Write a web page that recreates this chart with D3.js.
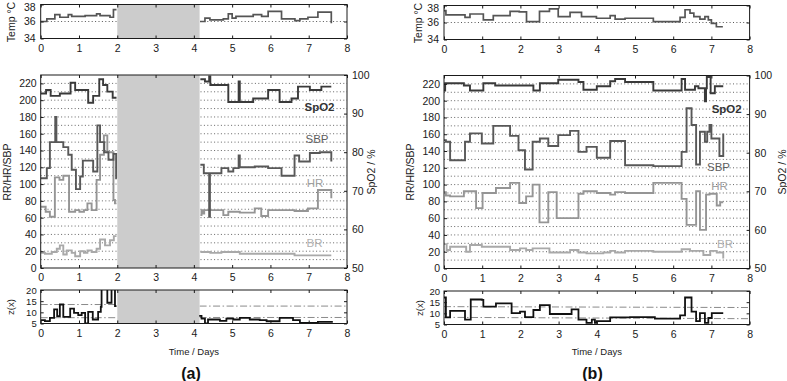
<!DOCTYPE html>
<html><head><meta charset="utf-8">
<script src="https://cdn.jsdelivr.net/npm/d3@7"></script>
<style>body{margin:0;background:#fff}</style>
</head><body>
<svg id="c" width="787" height="381"></svg>
<script>
// ---------- tick values ----------
const xTicks = [0,1,2,3,4,5,6,7,8];
const tempTicks = [34,36,38];
const leftTicks = [0,20,40,60,80,100,120,140,160,180,200,220];
const rightTicks = [50,60,70,80,90,100];
const zTicks = [5,10,15,20];
const gridLevels = [10,20,30,40,50,60,70,80,90,100,110,120,130,140,150,160,170,180,190,200,210,220];
const tempGrid = [36];

// ---------- panel (a) data : [time in days, value], null = gap ----------
const aGap = [2.0, 4.15];
const aTemp = [[0,36.0],[0.16,36.3],[0.37,36.8],[0.50,36.5],[0.72,36.8],[0.81,36.6],[1.16,36.7],[1.46,36.9],[1.55,36.7],[1.81,36.5],[1.90,37.4],[1.98,37.4],[2,null],
  [4.16,36.0],[4.29,36.4],[4.42,36.2],[4.77,36.3],[4.90,36.9],[5.0,36.4],[5.1,36.6],[5.55,36.8],[5.77,36.6],[5.94,37.2],[6.29,36.3],[6.64,36.1],[6.77,36.3],[6.98,36.5],[7.24,37.1],[7.59,35.8]];
const aSpO2 = [[0,95.2],[0.14,96.1],[0.26,94.6],[0.50,95.2],[0.78,98.0],[0.90,96.1],[1.24,92.8],[1.37,94.6],[1.53,98.9],[1.63,97.4],[1.74,95.7],[1.88,94.1],[1.98,94.1],[2,null],
  [4.17,98.9],[4.29,98.3],[4.40,99.6],[4.43,97.4],[4.90,93.0],[5.17,98.3],[5.20,93.0],[5.55,93.9],[5.94,96.1],[6.24,93.0],[6.55,93.9],[6.72,97.0],[7.03,96.1],[7.33,97.0],[7.59,97.0]];
const aSBP = [[0,107],[0.16,119],[0.24,150],[0.38,180],[0.41,150],[0.59,144],[0.72,135],[0.81,117],[0.92,94],[1.03,109],[1.10,128],[1.37,115],[1.48,170],[1.55,150],[1.66,138],[1.77,129],[1.90,136],[1.97,107],[1.99,107],[2,null],
  [4.17,123],[4.26,113],[4.40,61],[4.42,113],[4.72,119],[4.90,115],[5.03,119],[5.17,134],[5.20,120],[5.59,121],[5.94,119],[6.29,110],[6.63,134],[6.75,127],[7.03,137],[7.29,138],[7.59,127]];
const aHR = [[0,73],[0.13,67],[0.24,61],[0.37,108],[0.49,105],[0.59,110],[0.74,67],[0.90,69],[1.01,67],[1.13,69],[1.22,77],[1.33,69],[1.46,105],[1.55,135],[1.65,158],[1.74,138],[1.90,81],[1.94,77],[1.98,77],[2,null],
  [4.17,63],[4.20,69],[4.23,65],[4.27,69],[4.77,63],[4.90,67],[5.20,66],[5.59,71],[5.76,62],[5.94,69],[6.63,68],[6.98,71],[7.24,93],[7.59,83]];
const aBR = [[0,18],[0.11,17],[0.29,19],[0.42,23],[0.50,27],[0.59,16],[0.68,21],[0.81,18],[0.90,14],[1.03,20],[1.13,18],[1.22,21],[1.33,19],[1.46,23],[1.55,34],[1.68,27],[1.81,33],[1.91,38],[1.98,38],[2,null],
  [4.17,19],[4.43,18],[4.72,19],[5.20,17],[6.63,15],[7.59,15]];
const aZ = [[0,6.5],[0.11,6.05],[0.24,7.55],[0.35,11.3],[0.43,8.3],[0.50,13.5],[0.59,8.0],[0.77,11.7],[0.87,9.8],[0.98,8.75],[1.07,9.8],[1.16,5.0],[1.24,10.25],[1.36,6.8],[1.50,10.25],[1.57,12.5],[1.59,20.5],[1.74,14.3],[1.85,20.5],[1.94,12.8],[1.98,12.8],[2,null],
  [4.14,8.4],[4.20,7.2],[4.29,5.0],[4.37,6.8],[4.68,6.2],[4.85,7.2],[5.03,6.8],[5.20,7.5],[5.46,6.8],[5.72,6.5],[5.90,6.0],[6.24,7.5],[6.59,6.5],[6.77,5.3],[7.24,5.7],[7.63,5.7]];
// thresholds: [t0, t1, v0, v1]
const aZHi = [[0,2,13.5,13.5],[4.15,8,12.8,12.8]];
const aZLo = [[0,2,7.6,7.6],[4.15,8,7.7,7.7]];

// ---------- panel (b) data ----------
const bTemp = [[0,37.4],[0.05,36.9],[0.55,36.6],[0.68,37.0],[1.03,36.3],[1.29,36.8],[1.73,37.3],[1.97,37.25],[2.16,36.1],[2.50,37.3],[2.76,37.6],[2.99,36.7],[3.30,37.2],[3.60,36.7],[3.99,36.5],[4.35,36.8],[4.48,36.4],[4.74,36.5],[5.48,36.1],[6.18,36.6],[6.31,37.5],[6.44,37.1],[6.54,36.7],[6.70,36.4],[6.83,36.7],[6.92,36.3],[7.00,35.9],[7.13,35.5],[7.30,35.5]];
const bSpO2 = [[0,96.1],[0.03,98.0],[0.52,97.4],[0.68,96.1],[1.03,98.0],[1.34,97.4],[2.34,96.1],[2.51,98.0],[2.99,98.9],[3.52,98.3],[3.65,96.3],[4.00,97.2],[4.35,98.5],[4.48,99.1],[4.74,98.3],[5.48,96.1],[6.22,99.1],[6.31,96.3],[6.57,97.2],[6.66,96.7],[6.83,93.3],[6.86,96.7],[6.88,99.6],[6.98,95.4],[7.09,97.2],[7.31,97.2]];
const bSBP = [[0,153],[0.05,151],[0.16,129],[0.55,151],[0.68,161],[0.99,149],[1.29,170],[1.73,158],[1.95,141],[2.12,118],[2.32,151],[2.51,155],[2.73,146],[2.99,159],[3.30,164],[3.52,139],[3.73,145],[4.00,132],[4.35,152],[4.74,123],[5.48,122],[6.22,139],[6.35,191],[6.48,171],[6.60,124],[6.70,163],[6.83,151],[6.89,163],[6.95,171],[7.00,155],[7.21,134],[7.31,161]];
const bHR = [[0,91],[0.05,87],[0.16,86],[0.52,92],[0.84,72],[1.01,90],[1.36,96],[1.73,102],[1.97,78],[2.15,86],[2.32,100],[2.50,55],[2.73,91],[2.95,60],[3.52,89],[3.65,92],[4.00,90],[4.35,88],[4.48,91],[4.74,90],[5.48,102],[6.22,83],[6.35,52],[6.60,92],[6.70,46],[6.86,88],[6.95,89],[7.14,75],[7.23,79],[7.31,79]];
const bBR = [[0,29],[0.07,22],[0.16,26],[0.58,20],[0.68,28],[0.99,26],[1.73,22],[1.99,24],[2.15,22],[2.32,24],[2.76,19],[3.30,22],[3.52,19],[3.73,18],[4.17,19],[4.35,21],[4.48,19],[4.74,21],[5.48,20],[6.22,23],[6.44,21],[6.79,16],[6.97,21],[7.14,19],[7.31,12]];
const bZ = [[0,17.1],[0.05,8.2],[0.16,11.1],[0.55,7.2],[0.70,16.2],[0.99,16.0],[1.03,13.0],[1.36,14.5],[1.77,10.1],[1.99,10.8],[2.12,8.3],[2.34,11.5],[2.51,13.7],[2.77,9.7],[3.34,11.8],[3.52,7.2],[3.73,5.7],[3.87,7.2],[3.95,5.7],[4.00,6.5],[4.35,8.2],[4.87,8.3],[5.52,7.6],[6.18,9.1],[6.31,17.1],[6.48,10.8],[6.60,6.5],[6.70,10.1],[6.83,5.7],[6.92,7.9],[7.01,10.1],[7.31,10.1]];
const bZHi = [[0,8,13.0,12.6]];
const bZLo = [[0,8,8.2,7.6]];

const seriesNames = ["SpO2","SBP","HR","BR"];

// ---------- drawing ----------
const FONT = '"Liberation Sans", Arial, Helvetica, sans-serif';
const svg = d3.select('#c');
const INK = '#1a1a1a';
let clipN = 0;

function styleAxis(sel, fs) {
  sel.select('.domain').remove();
  sel.attr('font-family', FONT).attr('font-size', fs);
  sel.selectAll('line').attr('stroke', INK).attr('stroke-width', 1);
  sel.selectAll('text').attr('fill', INK);
}

function box(g, x, y) {
  const [x0, x1] = x.range(); const [yb, yt] = y.range();
  const id = 'clip' + (clipN++);
  g.append('clipPath').attr('id', id).append('rect')
    .attr('x', x0).attr('y', yt).attr('width', x1 - x0).attr('height', yb - yt);
  g.append('rect').attr('x', x0).attr('y', yt).attr('width', x1 - x0).attr('height', yb - yt).attr('fill', '#fff');
  return g.append('g').attr('clip-path', `url(#${id})`);
}

function frameAndTicks(g, x, y, leftVals, opts) {
  const [x0, x1] = x.range(); const [yb, yt] = y.range();
  g.append('rect').attr('x', x0).attr('y', yt).attr('width', x1 - x0).attr('height', yb - yt)
    .attr('fill', 'none').attr('stroke', INK).attr('stroke-width', 1);
  g.append('g').attr('transform', `translate(0,${yb})`)
    .call(d3.axisBottom(x).tickValues(xTicks).tickSizeInner(-3).tickSizeOuter(0).tickPadding(opts.xPad).tickFormat(d3.format('d')))
    .call(s => styleAxis(s, opts.xFs));
  g.append('g').attr('transform', `translate(0,${yt})`)
    .call(d3.axisTop(x).tickValues(xTicks).tickSizeInner(-3).tickSizeOuter(0).tickFormat(''))
    .call(s => styleAxis(s, 10));
  const la = g.append('g').attr('transform', `translate(${x0},0)`)
    .call(d3.axisLeft(y).tickValues(leftVals).tickSizeInner(-3).tickSizeOuter(0).tickPadding(opts.yPad).tickFormat(d3.format('d')))
    .call(s => styleAxis(s, opts.yFs));
  if (opts.topShift) la.selectAll('.tick text').filter(d => d === leftVals[leftVals.length - 1]).attr('dy', opts.topShift);
  if (!opts.noRight) {
    g.append('g').attr('transform', `translate(${x1},0)`)
      .call(d3.axisRight(y).tickValues(leftVals).tickSizeInner(-3).tickSizeOuter(0).tickFormat(''))
      .call(s => styleAxis(s, 10));
  }
}

function stepLine(x, y) {
  return d3.line().defined(d => d[1] != null).x(d => x(d[0])).y(d => y(d[1])).curve(d3.curveStepAfter);
}

function grayGap(cg, x, y, gap) {
  if (!gap) return;
  const [yb, yt] = y.range();
  cg.append('rect').attr('x', x(gap[0])).attr('y', yt).attr('width', x(gap[1]) - x(gap[0])).attr('height', yb - yt).attr('fill', '#cccccc');
}

function rotLabel(x, y, txt, fs) {
  svg.append('text').attr('transform', `translate(${x},${y}) rotate(-90)`)
    .attr('text-anchor', 'middle').attr('dominant-baseline', 'central')
    .attr('font-family', FONT).attr('font-size', fs).attr('fill', INK).text(txt);
}

function drawPanel(cfg, D) {
  const g = svg.append('g');
  const x = d3.scaleLinear().domain([0, 8]).range([cfg.x0, cfg.x1]);
  const dy = cfg.dy;

  // ---- temperature ----
  const tY = d3.scaleLinear().domain([34, 38]).range([38.5 + dy, 4.5 + dy]);
  let cg = box(g, x, tY);
  cg.selectAll('line.tg').data(tempGrid).join('line').attr('x1', cfg.x0).attr('x2', cfg.x1)
    .attr('y1', d => tY(d)).attr('y2', d => tY(d)).attr('stroke', '#444').attr('stroke-width', 0.9).attr('stroke-dasharray', '1,2.4');
  grayGap(cg, x, tY, D.gap);
  cg.append('path').datum(D.temp).attr('d', stepLine(x, tY)).attr('fill', 'none').attr('stroke', '#555').attr('stroke-width', 1.7);
  frameAndTicks(g, x, tY, tempTicks, {xPad: 6, xFs: 10.5, yPad: 5, yFs: 10.5, topShift: '0.55em'});

  // ---- vital signs ----
  const mY = d3.scaleLinear().domain([0, 230]).range([268 + dy * 0.5, 75 + dy * 0.5]);
  const sY = d3.scaleLinear().domain([50, 100]).range(mY.range());
  cg = box(g, x, mY);
  cg.selectAll('line.mg').data(gridLevels).join('line').attr('x1', cfg.x0).attr('x2', cfg.x1)
    .attr('y1', d => mY(d)).attr('y2', d => mY(d)).attr('stroke', '#555').attr('stroke-width', 0.9).attr('stroke-dasharray', '1,2.4');
  grayGap(cg, x, mY, D.gap);
  const styles = [
    {data: D.br, y: mY, c: '#a9a9a9'},
    {data: D.hr, y: mY, c: '#959595'},
    {data: D.sbp, y: mY, c: '#585858'},
    {data: D.spo2, y: sY, c: '#3a3a3a'}
  ];
  styles.forEach(s => cg.append('path').datum(s.data).attr('d', stepLine(x, s.y)).attr('fill', 'none').attr('stroke', s.c).attr('stroke-width', 1.9));
  frameAndTicks(g, x, mY, leftTicks, {xPad: 6, xFs: 10.5, yPad: 4, yFs: 10.5, noRight: true});
  g.append('g').attr('transform', `translate(${cfg.x1},0)`)
    .call(d3.axisRight(sY).tickValues(rightTicks).tickSizeInner(-3).tickSizeOuter(0).tickPadding(5).tickFormat(d3.format('d')))
    .call(s => styleAxis(s, 10.5));
  // series labels
  const lblCol = ['#333', '#5e5e5e', '#a0a0a0', '#b0b0b0'];
  seriesNames.forEach((n, i) => {
    svg.append('text').attr('x', cfg.lbl[i][0]).attr('y', cfg.lbl[i][1] + dy * 0.5)
      .attr('text-anchor', 'middle').attr('dominant-baseline', 'central')
      .attr('font-family', FONT).attr('font-size', 11.5).attr('font-weight', i === 0 ? 'bold' : 'normal')
      .attr('fill', lblCol[i]).text(n);
  });

  // ---- z(x) ----
  const zY = d3.scaleLinear().domain([5, 20]).range([323.5 + dy, 290 + dy]);
  cg = box(g, x, zY);
  [D.zHi, D.zLo].forEach(arr => {
    cg.selectAll(null).data(arr).join('line')
      .attr('x1', d => x(d[0])).attr('x2', d => x(d[1])).attr('y1', d => zY(d[2])).attr('y2', d => zY(d[3]))
      .attr('stroke', '#8a8a8a').attr('stroke-width', 1).attr('stroke-dasharray', '7,2.5,1.5,2.5');
  });
  grayGap(cg, x, zY, D.gap);
  cg.append('path').datum(D.z).attr('d', stepLine(x, zY)).attr('fill', 'none').attr('stroke', '#111').attr('stroke-width', 1.8);
  frameAndTicks(g, x, zY, zTicks, {xPad: 6, xFs: 10.5, yPad: 4, yFs: 9.5});

  // ---- axis titles ----
  rotLabel(cfg.tempLblX, 22 + dy, 'Temp \u00B0C', 10.5);
  rotLabel(cfg.mainLblX, 172, 'RR/HR/SBP', 10.5);
  rotLabel(cfg.rightLblX, 172, 'SpO2 / %', 10.5);
  rotLabel(cfg.zLblX, 307 + dy, 'z(x)', 9.5);
  svg.append('text').attr('x', (cfg.x0 + cfg.x1) / 2).attr('y', 351).attr('text-anchor', 'middle').attr('dominant-baseline', 'central')
    .attr('font-family', FONT).attr('font-size', 9.5).attr('fill', INK).text('Time / Days');
  svg.append('text').attr('x', cfg.capX).attr('y', 373).attr('text-anchor', 'middle').attr('dominant-baseline', 'central')
    .attr('font-family', FONT).attr('font-size', 16).attr('font-weight', 'bold').attr('fill', '#111').text(cfg.cap);
}

drawPanel({x0: 40.7, x1: 347, dy: 0, tempLblX: 11, mainLblX: 6.5, rightLblX: 371, zLblX: 10.8, capX: 191, cap: '(a)',
  lbl: [[319.5, 106.7], [317, 139.3], [315, 183.3], [314.5, 243.3]]},
  {gap: aGap, temp: aTemp, spo2: aSpO2, sbp: aSBP, hr: aHR, br: aBR, z: aZ, zHi: aZHi, zLo: aZLo});
drawPanel({x0: 444, x1: 749.6, dy: 1, tempLblX: 418, mainLblX: 410, rightLblX: 781.7, zLblX: 419, capX: 592.5, cap: '(b)',
  lbl: [[726.7, 108.3], [718.5, 166.7], [719.5, 185], [725, 243.3]]},
  {gap: null, temp: bTemp, spo2: bSpO2, sbp: bSBP, hr: bHR, br: bBR, z: bZ, zHi: bZHi, zLo: bZLo});
</script>
</body></html>
